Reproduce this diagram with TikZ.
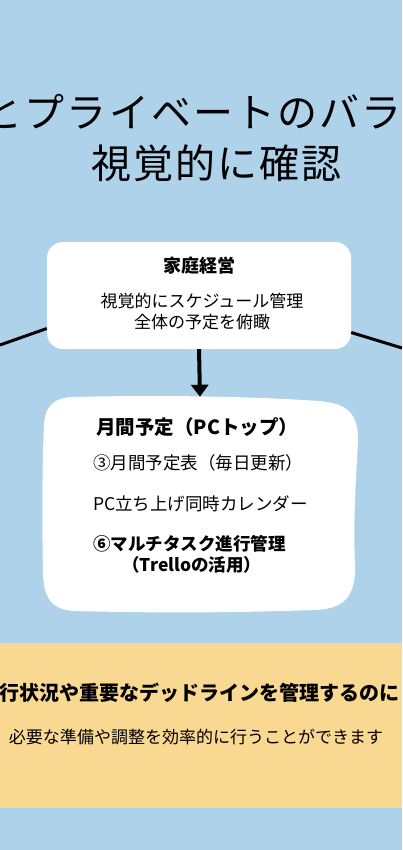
\documentclass[tikz,border=0pt]{standalone}
\usepackage{fontspec}
\setmainfont{Noto Sans CJK JP}
\usetikzlibrary{arrows.meta}
\definecolor{bgblue}{RGB}{174,210,233}
\definecolor{ylw}{RGB}{249,216,146}
\begin{document}
\begin{tikzpicture}[x=1pt,y=-1pt,
  txt/.style={inner sep=0pt, text=black},
  ttl/.style={txt, font=\fontsize{40}{40}\selectfont\addfontfeature{LetterSpace=5}},
  conn/.style={line width=3pt, black},
  arr/.style={line width=4pt, black, -{Triangle[width=17pt,length=12pt]}}]
\useasboundingbox (0,0) rectangle (402,850);
\begin{scope}
\clip (0,0) rectangle (402,850);
\fill[bgblue] (0,0) rectangle (402,850);
% title
\node[ttl] (t1) at (192,112) {とプライベートのバラ};
\node[ttl] (t2) at (216,163) {視覚的に確認};
% family box
\node[fill=white, rounded corners=16pt, minimum width=304pt, minimum height=107pt, inner sep=0pt] (fam) at (199,295.5) {};
\coordinate (L) at (0,345);
\coordinate (R) at (402,348);
\draw[conn] (L) -- ([yshift=-33pt]fam.west);
\draw[conn] ([yshift=-37pt]fam.east) -- (R);
\node[txt, font=\fontsize{18}{18}\selectfont\bfseries] (famT) at (199,266) {家庭経営};
\node[txt, font=\fontsize{17}{17}\selectfont] (famA) at (202,301) {視覚的にスケジュール管理};
\node[txt, font=\fontsize{17}{17}\selectfont] (famB) at (202,322) {全体の予定を俯瞰};
% monthly box
\node[minimum width=316pt, minimum height=215pt, inner sep=0pt] (month) at (200,504.5) {};
\fill[white] (72,397) .. controls (150,395) and (250,396) .. (318,401)
 .. controls (348,403) and (358,414) .. (358,440)
 .. controls (356,480) and (353,520) .. (355,565)
 .. controls (356,595) and (345,609) .. (315,610)
 .. controls (230,613) and (150,613) .. (75,611)
 .. controls (52,610) and (44,598) .. (43,575)
 .. controls (42,520) and (42,470) .. (44,425)
 .. controls (45,405) and (55,398) .. (72,397) -- cycle;
\draw[arr] (fam.south) -- (month.north);
\node[txt, anchor=west, font=\fontsize{19.5}{19.5}\selectfont\bfseries] (m1) at (96,427) {月間予定（PCトップ）};
\node[txt, anchor=west, font=\fontsize{17.5}{17.5}\selectfont] (m2) at (93,463) {③月間予定表（毎日更新）};
\node[txt, anchor=west, font=\fontsize{17.5}{17.5}\selectfont] (m3) at (93,504) {PC立ち上げ同時カレンダー};
\node[txt, anchor=west, font=\fontsize{17.5}{17.5}\selectfont\bfseries] (m4) at (93,544) {⑥マルチタスク進行管理};
\node[txt, anchor=west, font=\fontsize{17.5}{17.5}\selectfont\bfseries] (m5) at (122,565) {（Trelloの活用）};
% yellow band
\node[fill=ylw, minimum width=402pt, minimum height=165pt, inner sep=0pt] (yb) at (201,725.5) {};
\node[txt, anchor=west, font=\fontsize{20}{20}\selectfont\bfseries] (y1) at (-1,693) {行状況や重要なデッドラインを管理するのに};
\node[txt, font=\fontsize{17}{17}\selectfont] (y2) at (196,737) {必要な準備や調整を効率的に行うことができます};
\end{scope}
\end{tikzpicture}
\end{document}
